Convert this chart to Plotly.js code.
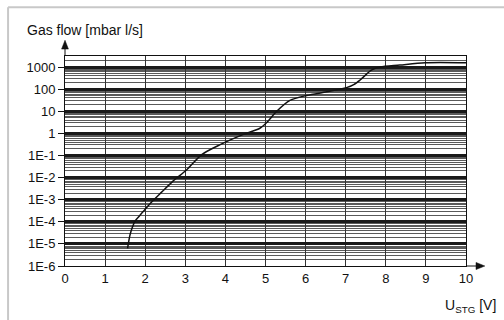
<!DOCTYPE html>
<html>
<head>
<meta charset="utf-8">
<script src="https://cdn.plot.ly/plotly-3.0.1.min.js"></script>
<style>html,body{margin:0;padding:0;background:#fff}#chart{width:504px;height:320px}</style>
</head>
<body>
<div id="chart"></div>
<script>
// Control voltage U_STG [V]
const voltage = [1.56, 1.62, 1.68, 1.75, 1.85, 1.95, 2.12, 2.41, 2.70, 3.03, 3.41, 3.87, 4.45, 4.86, 5.03, 5.28, 5.61, 6.03, 6.53, 7.02, 7.2, 7.36, 7.65, 7.86, 8.35, 8.98, 10];
// Gas flow [mbar l/s]
const gasFlow = [6.3e-6, 2.5e-5, 5.6e-5, 1.1e-4, 1.8e-4, 2.9e-4, 6.6e-4, 2.2e-3, 7.1e-3, 2.2e-2, 0.11, 0.31, 0.9, 1.7, 3.1, 10, 31, 52, 76, 117, 160, 260, 740, 1000, 1230, 1580, 1580];
const yTickVals = [1e-6, 1e-5, 1e-4, 1e-3, 1e-2, 1e-1, 1, 10, 100, 1000];
const yTickText = ["1E-6", "1E-5", "1E-4", "1E-3", "1E-2", "1E-1", "1", "10", "100", "1000"];
const xTickVals = [0, 1, 2, 3, 4, 5, 6, 7, 8, 9, 10];

const minorVals = [];
yTickVals.forEach(d => { for (let k = 2; k <= 9; k++) minorVals.push(d * k); });

const font = {family: 'Liberation Sans, Arial, sans-serif', size: 13, color: '#111'};
const titleFont = {family: 'Liberation Sans, Arial, sans-serif', size: 14, color: '#111'};

const data = [{
  x: voltage, y: gasFlow, type: 'scatter', mode: 'lines',
  line: {color: '#111', width: 1.5, shape: 'spline', smoothing: 0.8},
  hoverinfo: 'skip'
}];

const layout = {
  width: 504, height: 320,
  margin: {l: 65, r: 38, t: 56, b: 54},
  paper_bgcolor: '#fff', plot_bgcolor: '#fff',
  font: font,
  showlegend: false,
  xaxis: {
    range: [0, 10], tickmode: 'array', tickvals: xTickVals,
    showgrid: true, gridcolor: '#333', gridwidth: 1,
    showline: true, linecolor: '#111', linewidth: 1, mirror: true,
    ticks: '', zeroline: false, fixedrange: true, tickfont: font
  },
  yaxis: {
    type: 'log', range: [-6, 3.5], tickmode: 'array',
    tickvals: yTickVals, ticktext: yTickText,
    showgrid: true, gridcolor: '#1a1a1a', gridwidth: 3,
    minor: {tickmode: 'array', tickvals: minorVals, showgrid: true, gridcolor: '#5a5a5a', gridwidth: 1, ticks: ''},
    showline: true, linecolor: '#111', linewidth: 1, mirror: true,
    ticks: 'outside', ticklen: 6, tickcolor: '#111', tickwidth: 1,
    zeroline: false, fixedrange: true, tickfont: font
  },
  shapes: [
    // outer light frame (top and left edges)
    {type: 'line', xref: 'paper', yref: 'paper', x0: -0.142, x1: 1.1, y0: 1.232, y1: 1.232, line: {color: '#c8c8c8', width: 2}},
    {type: 'line', xref: 'paper', yref: 'paper', x0: -0.142, x1: -0.142, y0: 1.232, y1: -0.3, line: {color: '#c8c8c8', width: 2}},
    // x-axis extension and arrowhead
    {type: 'line', xref: 'paper', yref: 'paper', x0: 1, x1: 1.03, y0: 0, y1: 0, line: {color: '#111', width: 1}},
    {type: 'path', xref: 'paper', yref: 'paper', path: 'M 1.025 0.017 L 1.047 0 L 1.025 -0.017 Z', fillcolor: '#111', line: {color: '#111', width: 0.5}},
    // y-axis extension and arrowhead
    {type: 'line', xref: 'paper', yref: 'paper', x0: 0, x1: 0, y0: 1, y1: 1.04, line: {color: '#111', width: 1}},
    {type: 'path', xref: 'paper', yref: 'paper', path: 'M -0.0085 1.033 L 0 1.075 L 0.0085 1.033 Z', fillcolor: '#111', line: {color: '#111', width: 0.5}}
  ],
  annotations: [
    {xref: 'paper', yref: 'paper', x: -0.1, y: 1.075, xanchor: 'left', yanchor: 'bottom',
     text: 'Gas flow [mbar l/s]', showarrow: false, font: titleFont},
    {xref: 'paper', yref: 'paper', x: 1.08, y: -0.14, xanchor: 'right', yanchor: 'top',
     text: 'U<sub>STG</sub> [V]', showarrow: false, font: titleFont}
  ]
};

Plotly.newPlot('chart', data, layout, {staticPlot: true, displayModeBar: false});
</script>
</body>
</html>
